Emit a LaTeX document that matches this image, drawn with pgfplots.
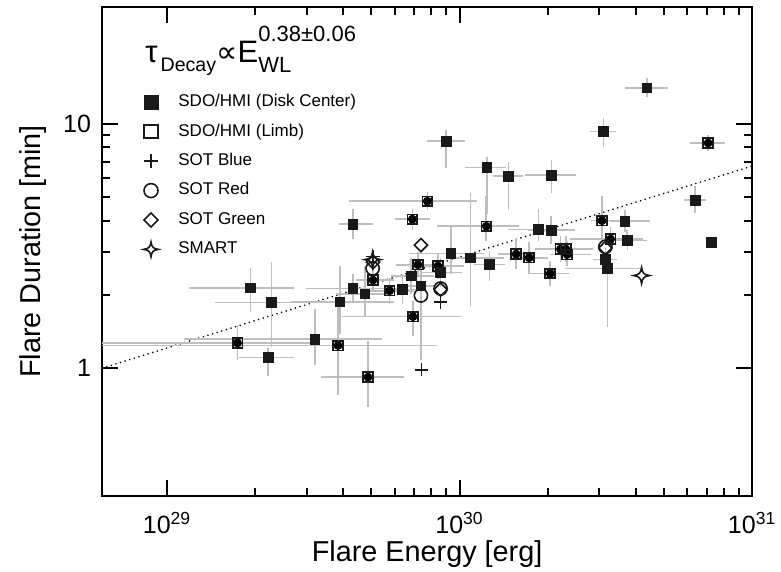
\documentclass[border=0pt]{standalone}
\usepackage{fontspec}
\setmainfont{Liberation Sans}
\newfontfamily\djv{DejaVu Sans}
\usepackage{pgfplots}
\usepackage{pgfplotstable}
\pgfplotsset{compat=1.18}
\definecolor{errcol}{RGB}{190,190,190}
\definecolor{mk}{RGB}{25,25,25}

\pgfdeclareplotmark{sqdiamond}{%
  \pgfpathmoveto{\pgfpoint{0pt}{\pgfplotmarksize}}%
  \pgfpathlineto{\pgfpoint{\pgfplotmarksize}{0pt}}%
  \pgfpathlineto{\pgfpoint{0pt}{-\pgfplotmarksize}}%
  \pgfpathlineto{\pgfpoint{-\pgfplotmarksize}{0pt}}%
  \pgfpathclose\pgfusepathqstroke}
\pgfdeclareplotmark{astroid}{%
  \pgfpathmoveto{\pgfpoint{0pt}{\pgfplotmarksize}}%
  \pgfpathcurveto{\pgfpoint{0.1\pgfplotmarksize}{0.3\pgfplotmarksize}}{\pgfpoint{0.3\pgfplotmarksize}{0.1\pgfplotmarksize}}{\pgfpoint{\pgfplotmarksize}{0pt}}%
  \pgfpathcurveto{\pgfpoint{0.3\pgfplotmarksize}{-0.1\pgfplotmarksize}}{\pgfpoint{0.1\pgfplotmarksize}{-0.3\pgfplotmarksize}}{\pgfpoint{0pt}{-\pgfplotmarksize}}%
  \pgfpathcurveto{\pgfpoint{-0.1\pgfplotmarksize}{-0.3\pgfplotmarksize}}{\pgfpoint{-0.3\pgfplotmarksize}{-0.1\pgfplotmarksize}}{\pgfpoint{-\pgfplotmarksize}{0pt}}%
  \pgfpathcurveto{\pgfpoint{-0.3\pgfplotmarksize}{0.1\pgfplotmarksize}}{\pgfpoint{-0.1\pgfplotmarksize}{0.3\pgfplotmarksize}}{\pgfpoint{0pt}{\pgfplotmarksize}}%
  \pgfpathclose\pgfusepathqstroke}

% Disk center (filled squares): x y xlo xhi ylo yhi
\pgfplotstableread{
x y xlo xhi ylo yhi
1.931e29 2.133 1.224e29 2.63e29 1.767 2.478
2.277e29 1.853 1.508e29 2.698e29 1.265 2.616
2.217e29 1.105 1.822e29 2.63e29 0.969 1.169
3.207e29 1.313 1.179e29 5.248e29 1.071 1.677
3.894e29 1.870 2.734e29 5.77e29 1.433 2.518
4.324e29 2.121 3.077e29 6.24e29 1.936 2.337
4.752e29 2.016 3.894e29 5.546e29 1.702 2.519
4.324e29 3.881 3.987e29 4.892e29 3.50 4.305
6.391e29 2.101 5.86e29 7.02e29 1.900 2.293
7.379e29 2.174 6.49e29 8.216e29 1.122 2.599
6.84e29 2.381 6.0e29 7.90e29 2.087 2.716
8.612e29 2.460 7.656e29 9.85e29 2.23 2.716
9.34e29 2.947 6.91e29 1.17e30 2.52 3.69
1.090e30 2.820 9.25e29 1.37e30 1.87 5.01
1.266e30 2.658 1.152e30 1.391e30 2.359 2.90
9.007e29 8.472 8.007e29 1.008e30 6.866 9.103
1.240e30 6.613 1.076e30 1.402e30 4.456 7.015
1.470e30 6.095 1.341e30 1.594e30 4.61 6.714
2.065e30 6.151 1.724e30 2.417e30 5.38 6.82
1.861e30 3.692 1.517e30 2.194e30 3.425 4.293
2.056e30 3.668 1.775e30 2.412e30 3.34 4.03
3.109e30 9.303 2.889e30 3.327e30 8.37 10.15
4.372e30 14.03 3.784e30 4.982e30 13.30 14.74
3.678e30 3.992 3.381e30 4.338e30 3.728 4.252
3.745e30 3.331 3.381e30 4.223e30 3.156 3.533
3.151e30 2.786 2.958e30 3.354e30 2.616 2.984
3.207e30 2.559 2.374e30 4.093e30 1.527 2.90
6.391e30 4.863 6.048e30 6.752e30 4.469 5.343
7.261e30 3.262 7.261e30 7.261e30 3.262 3.262
}\disk

% Limb (open squares)
\pgfplotstableread{
x y xlo xhi ylo yhi
1.743e29 1.268 5e28 3.0e29 1.122 1.443
3.843e29 1.237 5e28 8.09e29 0.8028 1.73
4.864e29 0.919 3.461e29 6.242e29 0.720 1.245
6.928e29 1.624 4.082e29 9.79e29 1.403 1.813
5.059e29 2.293 4.557e29 5.77e29 2.127 2.472
5.768e29 2.074 5.008e29 6.752e29 1.90 2.25
7.204e29 2.648 6.24e29 8.55e29 2.449 2.873
8.433e29 2.616 7.30e29 1.0e30 2.40 2.82
6.896e29 4.068 6.193e29 7.656e29 3.809 4.305
7.759e29 4.818 4.324e29 1.110e30 4.60 5.05
1.234e30 3.809 8.66e29 1.553e30 3.445 4.86
1.561e30 2.928 1.402e30 1.733e30 2.641 3.246
1.729e30 2.828 1.553e30 1.950e30 2.519 3.157
2.040e30 2.438 1.775e30 2.301e30 2.25 2.641
2.212e30 3.069 1.875e30 2.778e30 2.82 3.34
2.310e30 3.069 2.029e30 2.778e30 2.82 3.34
2.332e30 2.914 2.110e30 2.735e30 2.716 3.187
3.069e30 4.011 2.912e30 3.251e30 3.34 4.86
3.284e30 3.371 2.469e30 4.115e30 3.127 3.634
7.074e30 8.334 6.339e30 7.857e30 8.005 8.63
}\limb

\pgfplotsset{errstyle/.style={forget plot, only marks, no markers,
    error bars/x dir=both, error bars/y dir=both,
    error bars/x explicit, error bars/y explicit,
    error bars/error bar style={errcol, line width=0.8pt},
    error bars/error mark options={errcol, line width=0.8pt, mark size=2pt}}}

\begin{document}
\begin{tikzpicture}
\begin{axis}[
  name=ax,
  scale only axis,
  width=325pt, height=244.5pt,
  xmode=log, ymode=log,
  xmin=6e28, xmax=1e31,
  ymin=0.3, ymax=30,
  xtick={1e29,1e30,1e31},
  xticklabels={10\textsuperscript{29},10\textsuperscript{30},10\textsuperscript{31}},
  ytick={1,10},
  yticklabels={1,10},
  tick align=inside,
  major tick length=8pt,
  minor tick length=4pt,
  every tick/.style={black, line width=1pt},
  axis line style={line width=1pt},
  ticklabel style={font=\fontsize{12.5}{14}\selectfont},
  xticklabel style={yshift=-4.5pt},
  yticklabel style={xshift=-2pt},
  xlabel={Flare Energy [erg]},
  ylabel={Flare Duration [min]},
  label style={font=\fontsize{14.4}{17}\selectfont},
  xlabel style={at={([yshift=-32.8pt]axis description cs:0.5,0)}, anchor=base},
  ylabel style={at={([xshift=-31pt]axis description cs:0,0.5)}, anchor=base},
  legend style={at={(axis description cs:0.054,0.8385)}, anchor=north west,
    draw=none, fill=none, font=\fontsize{8.5}{10}\selectfont,
    row sep=2.7pt, column sep=8pt, nodes={text height=6.2pt, text depth=1.8pt, inner sep=2pt}},
  legend cell align=left,
]
% fit line
\addplot[forget plot, black, line width=0.9pt, dash pattern=on 0.01pt off 2.4pt, line cap=round]
  coordinates {(6e28,1.0) (1e31,6.71)};
% error bars (no markers of their own)
\addplot[errstyle] table[x=x, y=y,
    x error plus expr=\thisrow{xhi}-\thisrow{x},
    x error minus expr=\thisrow{x}-\thisrow{xlo},
    y error plus expr=\thisrow{yhi}-\thisrow{y},
    y error minus expr=\thisrow{y}-\thisrow{ylo}] {\disk};
\addplot[errstyle] table[x=x, y=y,
    x error plus expr=\thisrow{xhi}-\thisrow{x},
    x error minus expr=\thisrow{x}-\thisrow{xlo},
    y error plus expr=\thisrow{yhi}-\thisrow{y},
    y error minus expr=\thisrow{y}-\thisrow{ylo}] {\limb};
% markers
\addplot[only marks, mark=square*, mark size=2.4pt, mark options={draw=mk, fill=mk},
  legend image post style={mark size=3.5pt}] table[x=x,y=y]{\disk};
\addlegendentry{SDO/HMI (Disk Center)}
\addplot[only marks, mark=square, mark size=2.4pt, mark options={draw=mk, line width=0.85pt},
  legend image post style={mark size=3.3pt, mark options={draw=mk, line width=1pt}}] table[x=x,y=y]{\limb};
\addlegendentry{SDO/HMI (Limb)}
\addplot[only marks, mark=+, mark size=3.3pt, mark options={draw=mk, line width=0.8pt},
  legend image post style={mark size=3.5pt}]
  coordinates {(5.059e29,2.859) (8.612e29,1.865) (7.402e29,0.984)};
\addlegendentry{SOT Blue}
\addplot[only marks, mark=o, mark size=3.3pt, mark options={draw=mk, line width=0.8pt},
  legend image post style={mark size=3.5pt}]
  coordinates {(5.047e29,2.559) (7.379e29,1.983) (8.612e29,2.117) (3.151e30,3.135)};
\addlegendentry{SOT Red}
\addplot[only marks, mark=sqdiamond, mark size=3.3pt, mark options={draw=mk, line width=0.8pt},
  legend image post style={mark size=3.5pt}]
  coordinates {(5.059e29,2.716) (7.379e29,3.187) (8.612e29,2.097) (3.151e30,3.10)};
\addlegendentry{SOT Green}
\addplot[only marks, mark=astroid, mark size=4pt, mark options={draw=mk, line width=0.8pt},
  legend image post style={mark size=3.7pt}]
  coordinates {(5.047e29,2.780) (4.19e30,2.392)};
\addlegendentry{SMART}
\node[anchor=base west, inner sep=0pt] at (axis description cs:0.066,0.8855)
  {\fontsize{15.5}{18}\selectfont τ\kern1.5pt\raisebox{-4.3pt}{\fontsize{9.8}{12}\selectfont Decay}{\djv\fontsize{15}{18}\selectfont ∝}E\rlap{\raisebox{11pt}{\fontsize{11}{13}\selectfont 0.38±0.06}}\raisebox{-4.5pt}{\fontsize{11}{13}\selectfont WL}};
\end{axis}
\pgfresetboundingbox
\path ([shift={(-51pt,-37.5pt)}]ax.south west) rectangle ([shift={(14.5pt,3.5pt)}]ax.north east);
\end{tikzpicture}
\end{document}
